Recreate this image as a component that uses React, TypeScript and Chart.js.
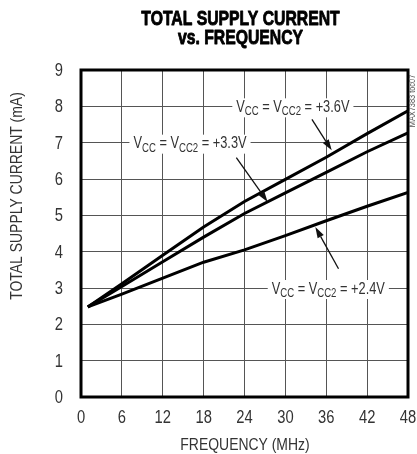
import React, { useEffect, useRef } from "react";
import { Chart, registerables } from "chart.js";

Chart.register(...registerables);

const frequencyMHz = [1, 6, 12, 18, 24, 30, 36, 42, 48];
const current36V = [2.48, 3.12, 3.9, 4.68, 5.38, 5.99, 6.6, 7.25, 7.88];
const current33V = [2.48, 3.04, 3.72, 4.4, 5.05, 5.62, 6.18, 6.75, 7.27];
const current24V = [2.48, 2.83, 3.27, 3.71, 4.05, 4.44, 4.85, 5.25, 5.63];
const xTicks = [0, 6, 12, 18, 24, 30, 36, 42, 48];
const yTicks = [0, 1, 2, 3, 4, 5, 6, 7, 8, 9];

const titleLines = ["TOTAL SUPPLY CURRENT", "vs. FREQUENCY"];
const xTitle = "FREQUENCY (MHz)";
const yTitle = "TOTAL SUPPLY CURRENT (mA)";
const watermark = "MAX7383 toc07";

const FONT = "'Liberation Sans', Arial, sans-serif";
const NARROW = 0.82;

const labels = [
  { volts: "+3.6V", x: 31.1, y: 8, ax0: 33.9, ay0: 7.64, ax1: 36.8, ay1: 6.79 },
  { volts: "+3.3V", x: 16.0, y: 7, ax0: 22.8, ay0: 6.59, ax1: 27.4, ay1: 5.37 },
  { volts: "+2.4V", x: 36.3, y: 3, ax0: 37.8, ay0: 3.53, ax1: 34.4, ay1: 4.68 },
];

function narrowText(
  ctx: CanvasRenderingContext2D,
  text: string,
  x: number,
  y: number,
  font: string,
  align: CanvasTextAlign,
  baseline: CanvasTextBaseline,
  sx = NARROW,
  rot = 0,
  strokeW = 0
) {
  ctx.save();
  ctx.translate(x, y);
  if (rot) ctx.rotate(rot);
  ctx.scale(sx, 1);
  ctx.font = font;
  ctx.textAlign = align;
  ctx.textBaseline = baseline;
  ctx.fillText(text, 0, 0);
  if (strokeW) {
    ctx.lineWidth = strokeW;
    ctx.strokeStyle = ctx.fillStyle as string;
    ctx.lineJoin = "round";
    ctx.strokeText(text, 0, 0);
  }
  ctx.restore();
}

function drawArrow(ctx: CanvasRenderingContext2D, x0: number, y0: number, x1: number, y1: number) {
  const ang = Math.atan2(y1 - y0, x1 - x0);
  const len = 11;
  const half = 3.5;
  const bx = x1 - Math.cos(ang) * len;
  const by = y1 - Math.sin(ang) * len;
  ctx.beginPath();
  ctx.moveTo(x0, y0);
  ctx.lineTo(bx, by);
  ctx.strokeStyle = "#111";
  ctx.lineWidth = 1.3;
  ctx.stroke();
  ctx.beginPath();
  ctx.moveTo(x1, y1);
  ctx.lineTo(bx + Math.sin(ang) * half, by - Math.cos(ang) * half);
  ctx.lineTo(bx - Math.sin(ang) * half, by + Math.cos(ang) * half);
  ctx.closePath();
  ctx.fillStyle = "#111";
  ctx.fill();
}

function drawLabel(ctx: CanvasRenderingContext2D, cx: number, cy: number, volts: string) {
  const parts = [
    { t: "V", sub: false },
    { t: "CC", sub: true },
    { t: " = V", sub: false },
    { t: "CC2", sub: true },
    { t: " = " + volts, sub: false },
  ];
  const mainFont = `16px ${FONT}`;
  const subFont = `12px ${FONT}`;
  const sx = 0.8;
  let w = 0;
  for (const p of parts) {
    ctx.font = p.sub ? subFont : mainFont;
    w += ctx.measureText(p.t).width * sx;
  }
  ctx.fillStyle = "#fff";
  ctx.fillRect(cx - w / 2 - 4, cy - 8, w + 8, 19);
  let x = cx - w / 2;
  ctx.fillStyle = "#333";
  for (const p of parts) {
    const f = p.sub ? subFont : mainFont;
    narrowText(ctx, p.t, x, cy + (p.sub ? 9 : 5.8), f, "left", "alphabetic", sx);
    ctx.font = f;
    x += ctx.measureText(p.t).width * sx;
  }
}

const decorPlugin = {
  id: "decor",
  afterDraw(chart: any) {
    const ctx: CanvasRenderingContext2D = chart.ctx;
    const xs = chart.scales.x;
    const ys = chart.scales.y;
    const a = chart.chartArea;
    ctx.save();
    for (const l of labels) {
      drawLabel(ctx, xs.getPixelForValue(l.x), ys.getPixelForValue(l.y), l.volts);
      drawArrow(ctx, xs.getPixelForValue(l.ax0), ys.getPixelForValue(l.ay0), xs.getPixelForValue(l.ax1), ys.getPixelForValue(l.ay1));
    }
    ctx.strokeStyle = "#000";
    ctx.lineWidth = 3;
    ctx.strokeRect(a.left, a.top, a.right - a.left, a.bottom - a.top);
    // ticks
    ctx.fillStyle = "#333";
    for (const v of yTicks) {
      narrowText(ctx, String(v), 63, ys.getPixelForValue(v) + 1, `18px ${FONT}`, "right", "middle");
    }
    for (const v of xTicks) {
      narrowText(ctx, String(v), xs.getPixelForValue(v), 418, `18px ${FONT}`, "center", "middle");
    }
    // title
    ctx.fillStyle = "#000";
    narrowText(ctx, titleLines[0], 240.5, 19, `bold 21px ${FONT}`, "center", "middle", 0.75, 0, 0.9);
    narrowText(ctx, titleLines[1], 240.5, 38, `bold 21px ${FONT}`, "center", "middle", 0.75, 0, 0.9);
    // axis titles
    ctx.fillStyle = "#333";
    narrowText(ctx, xTitle, 245, 445, `17px ${FONT}`, "center", "middle");
    narrowText(ctx, yTitle, 17.5, 196, `17px ${FONT}`, "center", "middle", NARROW, -Math.PI / 2);
    // watermark
    ctx.fillStyle = "#555";
    narrowText(ctx, watermark, 413, 101, `9px ${FONT}`, "center", "middle", NARROW, -Math.PI / 2);
    ctx.restore();
  },
};

export default function App() {
  const ref = useRef<HTMLCanvasElement>(null);
  useEffect(() => {
    if (!ref.current) return;
    const mk = (vals: number[]) => ({
      data: vals.map((v, i) => ({ x: frequencyMHz[i], y: v })),
      borderColor: "#000",
      borderWidth: 3,
      pointRadius: 0,
      tension: 0,
      fill: false,
    });
    const chart = new Chart(ref.current, {
      type: "line",
      data: { datasets: [mk(current36V), mk(current33V), mk(current24V)] },
      options: {
        animation: false,
        responsive: false,
        events: [],
        layout: { padding: { top: 70, right: 9, left: 0, bottom: 0 } },
        plugins: { legend: { display: false }, tooltip: { enabled: false }, title: { display: false } },
        scales: {
          x: {
            type: "linear",
            min: 0,
            max: 48,
            afterFit: (s: any) => { s.height = 57; },
            afterBuildTicks: (s: any) => { s.ticks = xTicks.map((v) => ({ value: v })); },
            grid: { color: "#555", lineWidth: 1, drawTicks: false },
            border: { display: false },
            ticks: { display: false },
          },
          y: {
            type: "linear",
            min: 0,
            max: 9,
            afterFit: (s: any) => { s.width = 81; },
            afterBuildTicks: (s: any) => { s.ticks = yTicks.map((v) => ({ value: v })); },
            grid: { color: "#555", lineWidth: 1, drawTicks: false },
            border: { display: false },
            ticks: { display: false },
          },
        },
      },
      plugins: [decorPlugin],
    });
    return () => chart.destroy();
  }, []);
  return (
    <div style={{ position: "fixed", left: 0, top: 0, width: 417, height: 454, background: "#fff" }}>
      <canvas ref={ref} width={417} height={454} style={{ width: 417, height: 454 }} />
    </div>
  );
}
